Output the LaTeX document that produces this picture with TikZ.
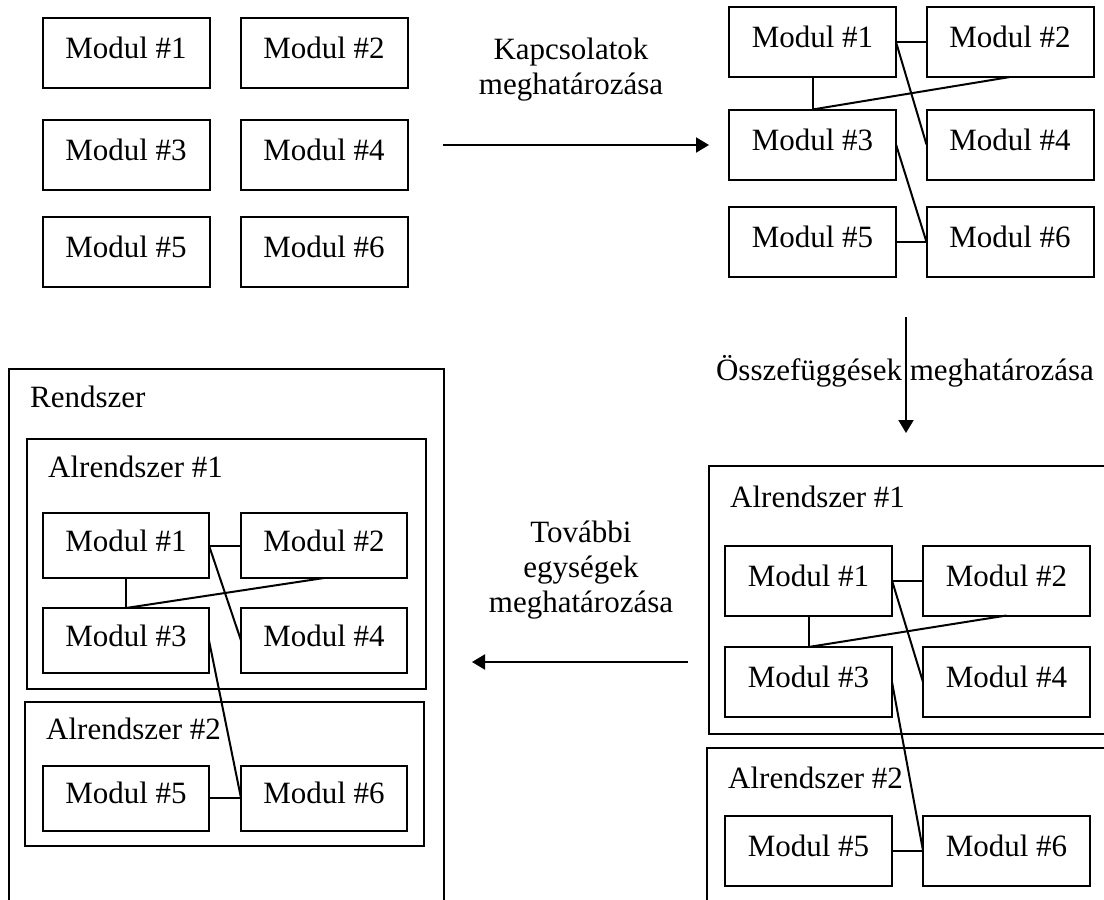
\documentclass[tikz,border=0pt]{standalone}
\usepackage{fontspec}
\setmainfont{Liberation Serif}
\usetikzlibrary{arrows.meta}
\begin{document}
\begin{tikzpicture}[x=1pt,y=-1pt,
  every node/.style={font=\fontsize{31}{35}\selectfont},
  modbox/.style={draw, line width=2pt, inner sep=0pt, outer sep=0pt,
    minimum width=167pt, minimum height=70pt, text height=21pt, text depth=10pt},
  smallbox/.style={modbox, minimum width=166pt, minimum height=65pt},
  link/.style={line width=2pt},
  frame/.style={draw, line width=2pt},
  flow/.style={line width=2pt, -{Triangle[length=13pt,width=15pt]}},
  caption/.style={inner sep=0pt, align=center},
  title/.style={inner sep=0pt, anchor=base west}]

\fill[white] (0,0) rectangle (1104,900);
\clip (0,0) rectangle (1104,900);

% --- loose modules (top left)
\node[modbox] (a1) at (126,52.5) {Modul \#1};
\node[modbox] (a2) at (324,52.5) {Modul \#2};
\node[modbox] (a3) at (126,154.5) {Modul \#3};
\node[modbox] (a4) at (324,154.5) {Modul \#4};
\node[modbox] (a5) at (126,252) {Modul \#5};
\node[modbox] (a6) at (324,252) {Modul \#6};

% --- step 1
\coordinate (f1s) at (443,145);
\coordinate (f1e) at (709,145);
\draw[flow] (f1s) -- (f1e);
\node[caption, anchor=north] (l1) at (571,38) {Kapcsolatok\\meghatározása};

% --- connected modules (top right)
\node[modbox] (b1) at (812.5,42) {Modul \#1};
\node[modbox] (b2) at (1010,42) {Modul \#2};
\node[modbox] (b3) at (812.5,144.5) {Modul \#3};
\node[modbox] (b4) at (1010,144.5) {Modul \#4};
\node[modbox] (b5) at (812.5,242) {Modul \#5};
\node[modbox] (b6) at (1010,242) {Modul \#6};
\draw[link] (b1.east) -- (b2.west);
\draw[link] (b1.east) -- (b4.west);
\draw[link] (b1.south) -- (b3.north);
\draw[link] (b3.north) -- (b2.south);
\draw[link] (b3.east) -- (b6.west);
\draw[link] (b5.east) -- (b6.west);

% --- step 2
\coordinate (f2s) at (906,317);
\coordinate (f2e) at (906,433);
\draw[flow] (f2s) -- (f2e);
\node[inner sep=0pt, anchor=base] (l2) at (905,380) {Összefüggések meghatározása};

% --- subsystems (bottom right)
\draw[frame] (709,466) rectangle (1120,734);
\draw[frame] (707,748) rectangle (1120,920);
\node[title] (c0) at (730,507) {Alrendszer \#1};
\node[title] (c7) at (728,788) {Alrendszer \#2};
\node[modbox] (c1) at (808.5,580.5) {Modul \#1};
\node[modbox] (c2) at (1006.5,580.5) {Modul \#2};
\node[modbox] (c3) at (808.5,682) {Modul \#3};
\node[modbox] (c4) at (1006.5,682) {Modul \#4};
\node[modbox] (c5) at (808.5,850.5) {Modul \#5};
\node[modbox] (c6) at (1006.5,850.5) {Modul \#6};
\draw[link] (c1.east) -- (c2.west);
\draw[link] (c1.east) -- (c4.west);
\draw[link] (c1.south) -- (c3.north);
\draw[link] (c3.north) -- (c2.south);
\draw[link] (c3.east) -- (c6.west);
\draw[link] (c5.east) -- (c6.west);

% --- step 3
\coordinate (f3s) at (688,662);
\coordinate (f3e) at (472,662);
\draw[flow] (f3s) -- (f3e);
\node[caption, anchor=north] (l3) at (581,521) {További\\egységek\\meghatározása};

% --- system (bottom left)
\draw[frame] (9,369) rectangle (444,920);
\draw[frame] (27,439) rectangle (426,689);
\draw[frame] (25,702) rectangle (424,846);
\node[title] (d0) at (30,407) {Rendszer};
\node[title] (d7) at (48,477) {Alrendszer \#1};
\node[title] (d8) at (46,739) {Alrendszer \#2};
\node[smallbox] (d1) at (126,545.5) {Modul \#1};
\node[smallbox] (d2) at (324,545.5) {Modul \#2};
\node[smallbox] (d3) at (126,640.5) {Modul \#3};
\node[smallbox] (d4) at (324,640.5) {Modul \#4};
\node[smallbox] (d5) at (126,798) {Modul \#5};
\node[smallbox] (d6) at (324,798) {Modul \#6};
\draw[link] (d1.east) -- (d2.west);
\draw[link] (d1.east) -- (d4.west);
\draw[link] (d1.south) -- (d3.north);
\draw[link] (d3.north) -- (d2.south);
\draw[link] (d3.east) -- (d6.west);
\draw[link] (d5.east) -- (d6.west);
\end{tikzpicture}
\end{document}
